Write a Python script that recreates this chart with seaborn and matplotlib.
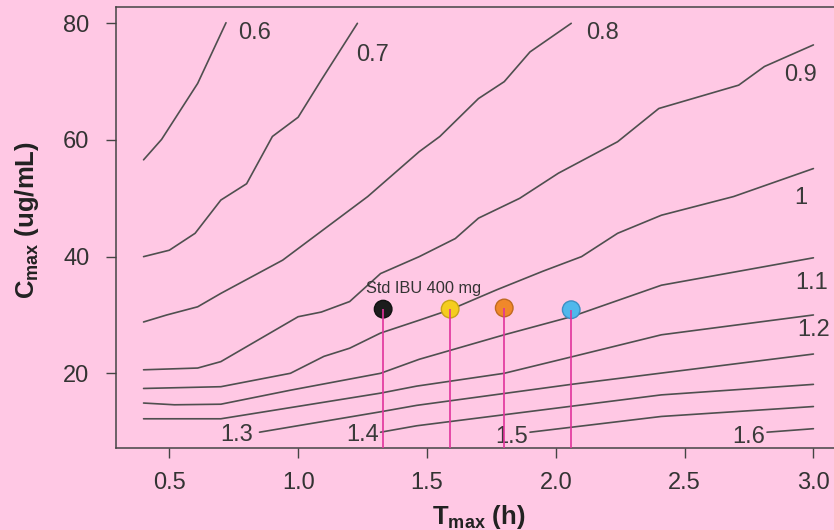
import numpy as np
import pandas as pd
import matplotlib
matplotlib.use("Agg")
import matplotlib.pyplot as plt
import seaborn as sns

# ---- data ----
levels = ["0.6", "0.7", "0.8", "0.9", "1", "1.1", "1.2", "1.3", "1.4", "1.5", "1.6"]

x_06 = [0.40, 0.47, 0.61, 0.72]
y_06 = [56.6, 60.1, 69.7, 80.1]
x_07 = [0.40, 0.50, 0.60, 0.70, 0.80, 0.90, 1.00, 1.09, 1.23]
y_07 = [40.0, 41.1, 44.0, 49.7, 52.5, 60.6, 63.9, 70.3, 80.0]
x_08 = [0.40, 0.49, 0.61, 0.70, 0.94, 1.27, 1.47, 1.55, 1.70, 1.80, 1.90, 2.06]
y_08 = [28.8, 30.0, 31.4, 33.7, 39.4, 50.3, 58.0, 60.6, 67.1, 70.0, 75.1, 80.0]
x_09 = [0.40, 0.61, 0.70, 1.00, 1.09, 1.20, 1.32, 1.47, 1.61, 1.70, 1.86, 2.01, 2.24, 2.40, 2.71, 2.81, 3.00]
y_09 = [20.6, 20.9, 22.0, 29.7, 30.5, 32.3, 37.1, 40.0, 43.1, 46.6, 50.0, 54.3, 59.7, 65.4, 69.4, 72.6, 76.3]
x_10 = [0.40, 0.70, 0.97, 1.10, 1.20, 1.32, 1.47, 1.59, 1.77, 1.95, 2.10, 2.24, 2.41, 2.69, 3.00]
y_10 = [17.4, 17.7, 20.0, 22.9, 24.3, 26.9, 29.1, 30.9, 34.3, 37.5, 40.0, 44.0, 47.1, 50.3, 55.1]
x_11 = [0.40, 0.52, 0.70, 0.97, 1.32, 1.47, 1.80, 2.06, 2.41, 3.00]
y_11 = [14.9, 14.6, 14.7, 17.1, 20.0, 22.4, 26.6, 29.7, 35.1, 39.8]
x_12 = [0.40, 0.70, 1.32, 1.46, 1.80, 2.06, 2.41, 3.00]
y_12 = [12.2, 12.2, 16.6, 17.8, 20.0, 22.8, 26.6, 30.0]
x_13 = [0.85, 1.32, 1.46, 2.06, 3.00]
y_13 = [9.9, 13.4, 14.5, 18.1, 23.3]
x_14 = [1.32, 1.46, 2.41, 3.00]
y_14 = [9.9, 11.0, 16.3, 18.1]
x_15 = [1.90, 2.41, 3.00]
y_15 = [9.9, 12.6, 14.3]
x_16 = [2.82, 3.00]
y_16 = [9.9, 10.5]

line_x = [x_06, x_07, x_08, x_09, x_10, x_11, x_12, x_13, x_14, x_15, x_16]
line_y = [y_06, y_07, y_08, y_09, y_10, y_11, y_12, y_13, y_14, y_15, y_16]

# contour label positions (data coords)
label_x = [0.83, 1.29, 2.18, 2.95, 2.95, 2.995, 3.00, 0.76, 1.25, 1.83, 2.75]
label_y = [78.3, 74.6, 78.3, 71.1, 50.0, 35.4, 27.4, 9.4, 9.4, 9.1, 9.1]

# formulations
pt_x = [1.33, 1.59, 1.80, 2.06]
pt_y = [31.0, 31.0, 31.2, 30.9]
pt_fill = ["#1c1c1c", "#f5cd1e", "#f0882a", "#4fb8ec"]
pt_edge = ["#111111", "#c9a517", "#c06a20", "#3d8fc4"]
annot_text = "Std IBU 400 mg"

xticks = [0.5, 1.0, 1.5, 2.0, 2.5, 3.0]
xtick_labels = ["0.5", "1.0", "1.5", "2.0", "2.5", "3.0"]
yticks = [20, 40, 60, 80]

# ---- style ----
sns.set_theme(style="ticks")
bg = "#ffc8e4"
plt.rcParams["font.family"] = ["Liberation Sans", "DejaVu Sans"]
plt.rcParams["mathtext.fontset"] = "custom"
plt.rcParams["mathtext.rm"] = "Liberation Sans"
plt.rcParams["mathtext.bf"] = "Liberation Sans:bold"

W, H = 834, 530
fig = plt.figure(figsize=(W / 100, H / 100), dpi=100, facecolor=bg)
ax_l, ax_r, ax_t, ax_b = 116, 834, 7, 448.3
ax = fig.add_axes([ax_l / W, 1 - ax_b / H, (ax_r - ax_l) / W, (ax_b - ax_t) / H])
ax.set_facecolor(bg)

rows = []
for lev, xs, ys in zip(levels, line_x, line_y):
    for i, (xv, yv) in enumerate(zip(xs, ys)):
        rows.append({"level": lev, "x": xv, "y": yv, "i": i})
df = pd.DataFrame(rows)

sns.lineplot(data=df, x="x", y="y", units="level", estimator=None, sort=False,
             color="#4f4f4f", linewidth=1.2, ax=ax, legend=False)

for lab, lx, ly in zip(levels, label_x, label_y):
    ax.text(lx, ly, lab, ha="center", va="center", fontsize=17, color="#3a3a3a")

ymin = 7.14
sns.scatterplot(x=pt_x, y=pt_y, hue=list(range(len(pt_x))), palette=pt_fill,
                edgecolor=pt_edge, linewidth=1.0, s=160, ax=ax, legend=False, zorder=4)
ax.vlines(pt_x, ymin, pt_y, color="#e0339b", linewidth=1.2, zorder=5)
ax.text(1.263, 34.6, annot_text, ha="left", va="center", fontsize=11.8, color="#333333")

ax.set_xlim(0.293, 3.08)
ax.set_ylim(ymin, 82.8)
ax.set_xticks(xticks)
ax.set_xticklabels(xtick_labels)
ax.set_yticks(yticks)
ax.tick_params(axis="x", length=7, width=1.0, colors="#444444", labelcolor="#333333",
               labelsize=17, pad=10)
ax.tick_params(axis="y", length=7, width=1.0, colors="#444444", labelcolor="#333333",
               labelsize=17, pad=12)
for s in ["left", "bottom", "top"]:
    ax.spines[s].set_visible(True)
    ax.spines[s].set_color("#444444")
    ax.spines[s].set_linewidth(1.1)
ax.spines["right"].set_visible(False)

ax.set_xlabel(r"$\mathbf{T}_{\mathbf{max}}$ (h)", fontsize=18.5, fontweight="bold", color="#222222")
ax.set_ylabel(r"$\mathbf{C}_{\mathbf{max}}$ (ug/mL)", fontsize=18.5, fontweight="bold", color="#222222")
ax.xaxis.set_label_coords(0.505, -0.125)
ax.yaxis.set_label_coords(-0.105, 0.518)

fig.savefig("out.png", dpi=100, facecolor=bg)
